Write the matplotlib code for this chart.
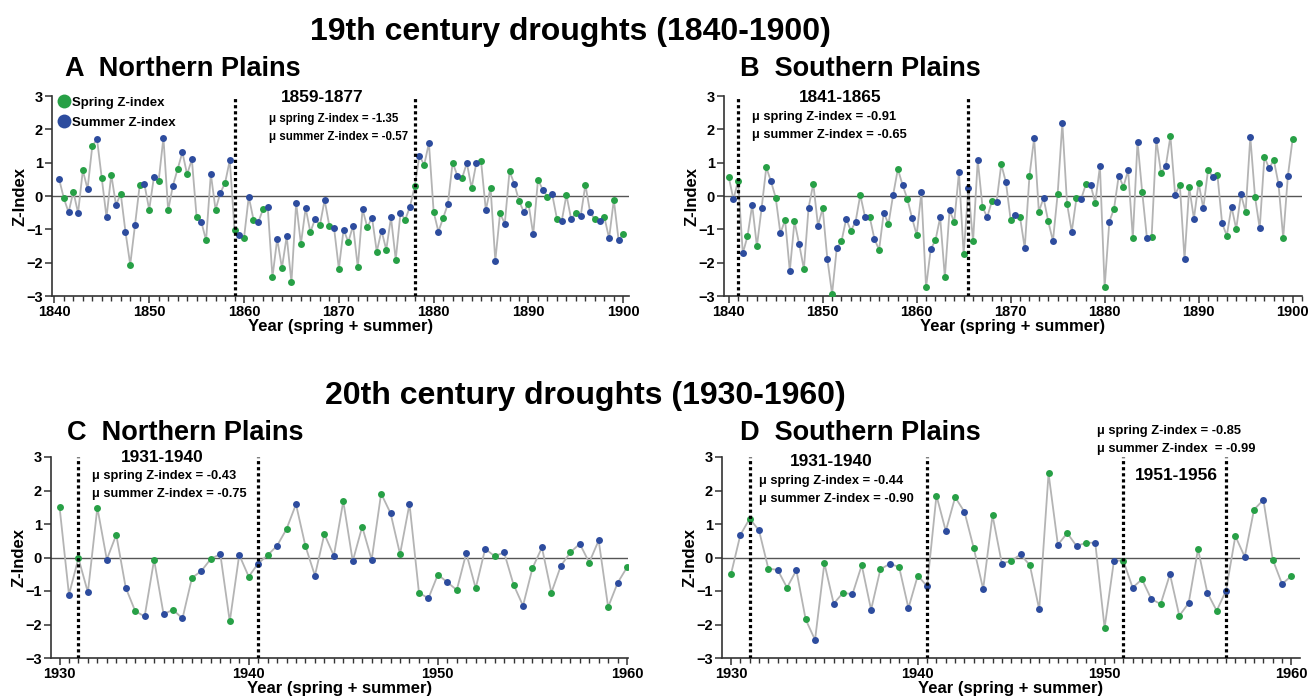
import numpy as np
import matplotlib
matplotlib.use("Agg")
import matplotlib.pyplot as plt
from matplotlib.ticker import MultipleLocator

plt.rcParams['font.family'] = ['Liberation Sans', 'DejaVu Sans']
plt.rcParams['font.weight'] = 'bold'

GREEN = "#27a046"
BLUE = "#2d4c9e"

#panel A (northern plains, 19th c.)::
a_spring_years = np.arange(1841, 1901)
a_spring = [-0.07, 0.13, 0.77, 1.50, 0.53, 0.64, 0.07, -2.06, 0.33, -0.41,
            0.46, -0.43, 0.81, 0.65, -0.63, -1.33, -0.41, 0.39, -1.01, -1.26,
            -0.71, -0.40, -2.43, -2.16, -2.59, -1.44, -1.09, -0.88, -0.90, -2.18,
            -1.38, -2.14, -0.93, -1.67, -1.61, -1.91, -0.71, 0.29, 0.93, -0.48,
            -0.66, 1.00, 0.54, 0.24, 1.04, 0.25, -0.52, 0.74, -0.14, -0.23,
            0.49, -0.02, -0.68, 0.03, -0.51, 0.34, -0.70, -0.63, -0.11, -1.14]
a_summer_years = np.arange(1840, 1900)
a_summer = [0.51, -0.49, -0.51, 0.21, 1.70, -0.64, -0.27, -1.08, -0.88, 0.35,
            0.57, 1.75, 0.31, 1.31, 1.10, -0.78, 0.66, 0.09, 1.07, -1.18,
            -0.02, -0.79, -0.33, -1.29, -1.21, -0.21, -0.36, -0.68, -0.12, -0.97,
            -1.01, -0.89, -0.40, -0.65, -1.04, -0.64, -0.51, -0.32, 1.21, 1.59,
            -1.07, -0.24, 0.61, 0.99, 0.99, -0.42, -1.94, -0.83, 0.37, -0.48,
            -1.15, 0.19, 0.05, -0.76, -0.69, -0.61, -0.49, -0.74, -1.27, -1.32]

#panel B (southern plains, 19th c.)::
b_spring_years = np.arange(1840, 1901)
b_spring = [0.58, 0.45, -1.21, -1.51, 0.86, -0.05, -0.72, -0.76, -2.19, 0.37,
            -0.37, -2.94, -1.36, -1.04, 0.03, -0.63, -1.62, -0.84, 0.81, -0.08,
            -1.17, -2.74, -1.33, -2.44, -0.78, -1.75, -1.36, -0.32, -0.16, 0.95,
            -0.72, -0.64, 0.60, -0.47, -0.76, 0.06, -0.23, -0.07, 0.35, -0.21,
            -2.74, -0.38, 0.28, -1.26, 0.11, -1.23, 0.70, 1.79, 0.34, 0.26,
            0.39, 0.78, 0.64, -1.19, -0.99, -0.47, -0.02, 1.18, 1.08, -1.26, 1.70]
b_summer_years = np.arange(1840, 1900)
b_summer = [-0.10, -1.72, -0.27, -0.37, 0.44, -1.12, -2.25, -1.45, -0.35, -0.89,
            -1.90, -1.56, -0.69, -0.77, -0.62, -1.28, -0.50, 0.04, 0.33, -0.65,
            0.11, -1.59, -0.64, -0.43, 0.71, 0.23, 1.08, -0.64, -0.18, 0.41,
            -0.58, -1.56, 1.74, -0.06, -1.35, 2.19, -1.07, -0.09, 0.34, 0.89,
            -0.77, 0.61, 0.77, 1.63, -1.26, 1.68, 0.89, 0.04, -1.90, -0.68,
            -0.37, 0.58, -0.82, -0.32, 0.05, 1.77, -0.97, 0.83, 0.36, 0.61]

#panel C (northern plains, 20th c.)::
c_spring_years = np.arange(1930, 1961)
c_spring = [1.52, -0.02, 1.49, 0.68, -1.60, -0.07, -1.56, -0.61, -0.04, -1.91,
            -0.57, 0.07, 0.85, 0.34, 0.70, 1.68, 0.92, 1.91, 0.10, -1.05,
            -0.51, -0.97, -0.92, 0.04, -0.81, -0.32, -1.05, 0.15, -0.15, -1.48, -0.29]
c_summer_years = np.arange(1930, 1960)
c_summer = [-1.11, -1.04, -0.06, -0.90, -1.76, -1.69, -1.82, -0.40, 0.10, 0.08,
            -0.18, 0.35, 1.59, -0.54, 0.05, -0.11, -0.07, 1.32, 1.60, -1.22,
            -0.74, 0.13, 0.26, 0.15, -1.44, 0.30, -0.25, 0.41, 0.51, -0.76]

#panel D (southern plains, 20th c.)::
d_spring_years = np.arange(1930, 1961)
d_spring = [-0.50, 1.16, -0.33, -0.90, -1.85, -0.17, -1.05, -0.23, -0.35, -0.28,
            -0.54, 1.85, 1.80, 0.27, 1.26, -0.10, -0.23, 2.51, 0.73, 0.44,
            -2.10, -0.09, -0.65, -1.39, -1.74, 0.25, -1.59, 0.64, 1.43, -0.06, -0.55]
d_summer_years = np.arange(1930, 1960)
d_summer = [0.67, 0.81, -0.37, -0.38, -2.46, -1.38, -1.10, -1.56, -0.19, -1.51,
            -0.86, 0.79, 1.36, -0.94, -0.18, 0.09, -1.55, 0.38, 0.34, 0.44,
            -0.10, -0.90, -1.24, -0.50, -1.36, -1.05, -0.99, 0.02, 1.72, -0.79]

#drought period boundaries::
a_bounds = [1859, 1878]
b_bounds = [1841, 1865.5]
c_bounds = [1931, 1940.5]
d_bounds = [1931, 1940.5, 1951, 1956.5]

W, H = 1310, 697


def fx(px):
    return px / W


def fy(py):
    return 1 - py / H


def draw_panel(ax, sp_yr, sp, su_yr, su, bounds, xlim, minor):
    sp_x = np.array(sp_yr, dtype=float)
    su_x = np.array(su_yr, dtype=float) + 0.5  #summer sits half a year later
    x = np.concatenate([sp_x, su_x])
    y = np.concatenate([sp, su])
    order = np.argsort(x)

    ax.axhline(0, color="#555555", lw=1.0, zorder=1)
    ax.plot(x[order], y[order], color="#b4b4b4", lw=1.3, zorder=2)
    ax.plot(sp_x, sp, "o", color=GREEN, ms=5, mec="none", zorder=3, label="Spring Z-index")
    ax.plot(su_x, su, "o", color=BLUE, ms=5, mec="none", zorder=3, label="Summer Z-index")
    for b in bounds:
        ax.axvline(b, color="black", ls=(0, (1, 0.9)), lw=2.3, zorder=4)

    ax.set_xlim(*xlim)
    ax.set_ylim(-3, 3)
    ax.set_yticks(range(-3, 4))
    ax.xaxis.set_major_locator(MultipleLocator(10))
    ax.xaxis.set_minor_locator(MultipleLocator(minor))
    for s in ["top", "right"]:
        ax.spines[s].set_visible(False)
    for s in ["left", "bottom"]:
        ax.spines[s].set_linewidth(1.2)
        ax.spines[s].set_color("#333333")
    ax.tick_params(which="major", direction="out", length=5, width=1.1,
                   labelsize=10.5, pad=1.5, color="#333333")
    ax.tick_params(which="minor", direction="out", length=3.5, width=1.0, color="#333333")
    for lab in ax.get_xticklabels() + ax.get_yticklabels():
        lab.set_fontweight("bold")
    ax.set_xlabel("Year (spring + summer)", fontsize=12, fontweight="bold", labelpad=0)
    ax.set_ylabel("Z-Index", fontsize=12, fontweight="bold", labelpad=-1)


fig = plt.figure(figsize=(W / 100, H / 100), dpi=100)

axA = fig.add_axes([fx(52), fy(296), fx(577), 200 / H])
axB = fig.add_axes([fx(724), fy(296), fx(578), 200 / H])
axC = fig.add_axes([fx(51), fy(658), fx(577), 201 / H])
axD = fig.add_axes([fx(722), fy(658), fx(578), 201 / H])

draw_panel(axA, a_spring_years, a_spring, a_summer_years, a_summer, a_bounds, (1839.75, 1900.6), 1)
draw_panel(axB, b_spring_years, b_spring, b_summer_years, b_summer, b_bounds, (1839.5, 1901.0), 1)
draw_panel(axC, c_spring_years, c_spring, c_summer_years, c_summer, c_bounds, (1929.55, 1960.05), 0.5)
draw_panel(axD, d_spring_years, d_spring, d_summer_years, d_summer, d_bounds, (1929.52, 1960.46), 0.5)

#legend in panel A::
axA.legend(loc="upper left", bbox_to_anchor=(-0.006, 1.055), frameon=False, markerscale=2.0,
           handlelength=0.5, handletextpad=0.4, labelspacing=0.55,
           prop={"weight": "bold", "size": 9.5})

#titles::
fig.text(fx(570), fy(32), "19th century droughts (1840-1900)", ha="center", va="center",
         fontsize=23, fontweight="bold")
fig.text(fx(585), fy(396), "20th century droughts (1930-1960)", ha="center", va="center",
         fontsize=23, fontweight="bold")

fig.text(fx(65), fy(69), "A  Northern Plains", ha="left", va="center", fontsize=19.5, fontweight="bold")
fig.text(fx(740), fy(69), "B  Southern Plains", ha="left", va="center", fontsize=19.5, fontweight="bold")
fig.text(fx(67), fy(433), "C  Northern Plains", ha="left", va="center", fontsize=19.5, fontweight="bold")
fig.text(fx(740), fy(433), "D  Southern Plains", ha="left", va="center", fontsize=19.5, fontweight="bold")

#period annotations::
def note(xc, yc, period, xl, y1, y2, m1, m2, size):
    fig.text(fx(xc), fy(yc), period, ha="center", va="center", fontsize=12.4, fontweight="bold")
    fig.text(fx(xl), fy(y1), m1, ha="left", va="center", fontsize=size, fontweight="bold")
    fig.text(fx(xl), fy(y2), m2, ha="left", va="center", fontsize=size, fontweight="bold")


note(322, 98, "1859-1877", 269, 119, 137,
     "\u03bc spring Z-index = -1.35", "\u03bc summer Z-index = -0.57", 8.3)
note(840, 98, "1841-1865", 752, 117, 135,
     "\u03bc spring Z-index = -0.91", "\u03bc summer Z-index = -0.65", 9.3)
note(162, 457, "1931-1940", 92, 476, 494,
     "\u03bc spring Z-index = -0.43", "\u03bc summer Z-index = -0.75", 9.3)
note(831, 462, "1931-1940", 759, 481, 499,
     "\u03bc spring Z-index = -0.44", "\u03bc summer Z-index = -0.90", 9.3)
note(1176, 475, "1951-1956", 1097, 431, 449,
     "\u03bc spring Z-index = -0.85", "\u03bc summer Z-index  = -0.99", 9.3)

plt.savefig("out.png", dpi=100)
plt.close()
